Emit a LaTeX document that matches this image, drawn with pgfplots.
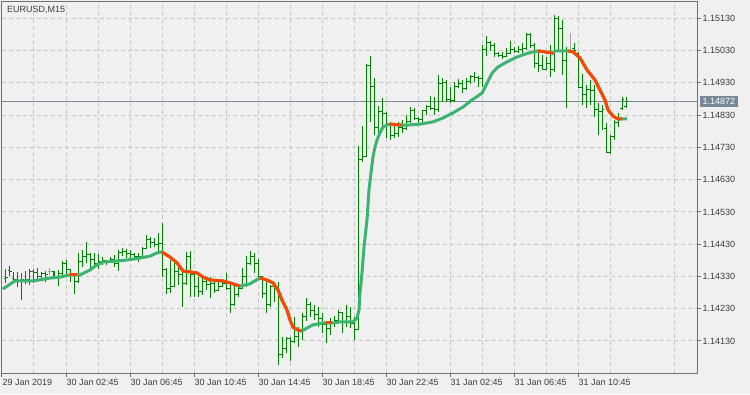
\documentclass[border=0pt]{standalone}
\usepackage{pgfplots}
\pgfplotsset{compat=1.18}
\usepackage{pgfplotstable}
\usepackage{fontspec}
\setmainfont{Liberation Sans}
\definecolor{bg}{RGB}{240,240,240}
\definecolor{barg}{RGB}{0,128,0}
\definecolor{bargray}{RGB}{160,160,160}
\definecolor{magreen}{RGB}{60,179,113}
\definecolor{maorange}{RGB}{255,69,0}
\definecolor{gridc}{RGB}{200,200,200}
\definecolor{framec}{RGB}{112,112,112}
\definecolor{pline}{RGB}{119,136,153}
\definecolor{txt}{RGB}{60,60,60}

\pgfplotstableread{
i o h l c
0 1.14324 1.14352 1.14309 1.14327
1 1.14348 1.14362 1.14331 1.14345
2 1.14324 1.14345 1.14314 1.14319
3 1.14319 1.14345 1.14296 1.14314
4 1.14314 1.14342 1.14257 1.14319
5 1.14317 1.14348 1.14307 1.14319
6 1.14319 1.14353 1.14304 1.14345
7 1.14345 1.14352 1.14309 1.14342
8 1.14342 1.14355 1.14319 1.14329
9 1.14329 1.14345 1.14319 1.14338
10 1.14338 1.14348 1.14314 1.14335
12 1.14345 1.14348 1.14321 1.14331
13 1.14331 1.14350 1.14300 1.14338
14 1.14338 1.14378 1.14335 1.14371
15 1.14371 1.14381 1.14329 1.14350
16 1.14350 1.14352 1.14314 1.14335
17 1.14335 1.14338 1.14276 1.14314
18 1.14314 1.14402 1.14310 1.14376
19 1.14376 1.14412 1.14360 1.14391
20 1.14391 1.14438 1.14371 1.14397
21 1.14397 1.14402 1.14355 1.14381
22 1.14381 1.14402 1.14362 1.14371
23 1.14371 1.14399 1.14352 1.14376
24 1.14376 1.14391 1.14366 1.14378
25 1.14378 1.14381 1.14366 1.14373
26 1.14373 1.14391 1.14371 1.14381
27 1.14381 1.14397 1.14360 1.14371
28 1.14371 1.14412 1.14348 1.14404
29 1.14404 1.14419 1.14393 1.14406
30 1.14406 1.14414 1.14386 1.14400
31 1.14400 1.14412 1.14386 1.14397
32 1.14397 1.14404 1.14381 1.14391
33 1.14391 1.14402 1.14376 1.14393
34 1.14391 1.14422 1.14389 1.14417
35 1.14417 1.14458 1.14414 1.14443
36 1.14443 1.14453 1.14417 1.14435
37 1.14435 1.14448 1.14422 1.14428
38 1.14428 1.14464 1.14402 1.14433
39 1.14433 1.14497 1.14327 1.14350
40 1.14350 1.14355 1.14276 1.14293
41 1.14293 1.14381 1.14278 1.14298
42 1.14298 1.14376 1.14296 1.14345
43 1.14345 1.14360 1.14304 1.14335
44 1.14335 1.14348 1.14236 1.14309
45 1.14309 1.14407 1.14304 1.14391
46 1.14391 1.14410 1.14267 1.14335
47 1.14335 1.14342 1.14267 1.14298
48 1.14298 1.14329 1.14267 1.14283
49 1.14283 1.14335 1.14273 1.14314
50 1.14314 1.14319 1.14288 1.14304
51 1.14304 1.14329 1.14262 1.14309
52 1.14309 1.14317 1.14278 1.14288
53 1.14288 1.14321 1.14286 1.14298
54 1.14298 1.14314 1.14296 1.14309
55 1.14309 1.14342 1.14288 1.14293
56 1.14293 1.14304 1.14216 1.14242
57 1.14242 1.14309 1.14238 1.14273
58 1.14273 1.14304 1.14267 1.14293
59 1.14293 1.14355 1.14290 1.14329
60 1.14329 1.14393 1.14298 1.14371
61 1.14371 1.14410 1.14366 1.14393
62 1.14391 1.14402 1.14340 1.14371
63 1.14371 1.14383 1.14319 1.14329
64 1.14329 1.14331 1.14262 1.14278
65 1.14278 1.14319 1.14216 1.14242
66 1.14242 1.14304 1.14236 1.14298
67 1.14298 1.14314 1.14252 1.14296
68 1.14296 1.14314 1.14056 1.14087
69 1.14087 1.14143 1.14076 1.14107
70 1.14107 1.14141 1.14092 1.14138
71 1.14138 1.14143 1.14069 1.14128
72 1.14128 1.14205 1.14123 1.14143
73 1.14143 1.14174 1.14110 1.14159
74 1.14159 1.14216 1.14133 1.14205
75 1.14205 1.14262 1.14193 1.14242
76 1.14242 1.14252 1.14205 1.14226
77 1.14226 1.14242 1.14195 1.14211
78 1.14211 1.14236 1.14174 1.14200
79 1.14200 1.14218 1.14154 1.14180
80 1.14180 1.14187 1.14123 1.14169
81 1.14169 1.14200 1.14149 1.14187
82 1.14187 1.14207 1.14174 1.14195
83 1.14195 1.14226 1.14185 1.14218
84 1.14218 1.14221 1.14154 1.14190
85 1.14190 1.14242 1.14174 1.14205
86 1.14205 1.14236 1.14169 1.14185
87 1.14185 1.14205 1.14133 1.14166
88 1.14166 1.14734 1.14164 1.14691
89 1.14691 1.14796 1.14686 1.14701
90 1.14701 1.14988 1.14701 1.14985
91 1.14985 1.15013 1.14810 1.14918
92 1.14918 1.14944 1.14768 1.14792
93 1.14792 1.14858 1.14768 1.14841
94 1.14841 1.14882 1.14789 1.14836
95 1.14836 1.14840 1.14758 1.14805
96 1.14805 1.14808 1.14753 1.14768
97 1.14768 1.14807 1.14758 1.14774
98 1.14774 1.14810 1.14763 1.14792
99 1.14792 1.14815 1.14774 1.14789
100 1.14789 1.14830 1.14784 1.14810
101 1.14810 1.14856 1.14805 1.14844
102 1.14844 1.14851 1.14815 1.14820
103 1.14820 1.14825 1.14799 1.14815
104 1.14815 1.14846 1.14799 1.14844
105 1.14844 1.14861 1.14830 1.14856
106 1.14856 1.14889 1.14846 1.14851
107 1.14851 1.14887 1.14830 1.14848
108 1.14848 1.14954 1.14841 1.14929
109 1.14929 1.14944 1.14872 1.14931
110 1.14931 1.14939 1.14872 1.14877
111 1.14877 1.14918 1.14869 1.14875
112 1.14875 1.14934 1.14872 1.14918
113 1.14918 1.14941 1.14913 1.14929
114 1.14929 1.14939 1.14900 1.14913
115 1.14913 1.14944 1.14908 1.14934
116 1.14934 1.14954 1.14926 1.14949
117 1.14949 1.14965 1.14934 1.14947
118 1.14947 1.14951 1.14918 1.14944
119 1.14944 1.15047 1.14918 1.15032
120 1.15032 1.15075 1.15013 1.15055
121 1.15055 1.15061 1.15030 1.15047
122 1.15047 1.15052 1.15011 1.15021
123 1.15021 1.15027 1.15011 1.15016
124 1.15016 1.15024 1.15003 1.15013
125 1.15013 1.15037 1.15009 1.15021
126 1.15021 1.15061 1.15019 1.15034
127 1.15034 1.15042 1.15021 1.15027
128 1.15027 1.15044 1.15021 1.15032
129 1.15032 1.15052 1.15021 1.15037
130 1.15037 1.15083 1.15032 1.15080
131 1.15080 1.15083 1.15037 1.15047
132 1.15047 1.15052 1.14975 1.14990
133 1.14990 1.15027 1.14965 1.14985
134 1.14985 1.15016 1.14970 1.14972
135 1.14972 1.15011 1.14970 1.14990
136 1.14990 1.15047 1.14947 1.14970
137 1.14970 1.15140 1.14965 1.15130
138 1.15130 1.15137 1.15027 1.15099
139 1.15099 1.15124 1.14954 1.14999
140 1.14999 1.15042 1.14851 1.15027
142 1.15035 1.15052 1.15027 1.15029
143 1.15021 1.15024 1.14913 1.14916
144 1.14916 1.14957 1.14861 1.14894
145 1.14894 1.14923 1.14851 1.14908
146 1.14908 1.14939 1.14861 1.14906
147 1.14906 1.14923 1.14825 1.14846
148 1.14846 1.14867 1.14768 1.14841
149 1.14841 1.14861 1.14784 1.14846
150 1.14790 1.14805 1.14712 1.14714
151 1.14714 1.14768 1.14709 1.14765
152 1.14763 1.14815 1.14753 1.14807
153 1.14807 1.14836 1.14794 1.14820
154 1.14851 1.14887 1.14846 1.14877
155 1.14858 1.14887 1.14851 1.14872
}\bars

\pgfplotstableread{
i o h l c
11 1.14345 1.14355 1.14335 1.14345
141 1.15030 1.15083 1.15027 1.15030
}\graybars

\pgfplotstableread{
x y
-0.8 1.14291
2.25 1.14316
6.75 1.14316
11 1.14325
13.5 1.14328
16 1.14335
17.75 1.14335
18.5 1.14335
21 1.14350
22.75 1.14366
24.25 1.14375
27.75 1.14378
30.25 1.14381
33.5 1.14387
36 1.14393
37.75 1.14403
39 1.14406
41 1.14390
42.75 1.14372
44.25 1.14347
46 1.14344
47.75 1.14341
49.25 1.14328
51 1.14319
54.25 1.14316
56 1.14310
58.5 1.14300
61 1.14307
61.75 1.14313
63.5 1.14325
65.25 1.14319
66.75 1.14310
68 1.14288
69 1.14257
70.25 1.14226
71 1.14195
71.75 1.14173
73 1.14164
74 1.14161
75.25 1.14170
76.75 1.14180
79.25 1.14186
81.75 1.14186
83.5 1.14189
86.75 1.14189
87.75 1.14201
88.25 1.14226
88.5 1.14279
89 1.14341
89.5 1.14421
90.25 1.14505
90.75 1.14598
91.25 1.14651
91.75 1.14700
92.25 1.14731
92.75 1.14753
93.5 1.14775
94.25 1.14793
95.25 1.14799
96 1.14802
99 1.14799
100.25 1.14799
103.5 1.14802
106.75 1.14809
109.25 1.14821
111.75 1.14837
114.25 1.14855
116.5 1.14877
119 1.14898
120.25 1.14929
121.5 1.14960
123 1.14979
125.25 1.14995
127.75 1.15010
129.75 1.15019
131.75 1.15026
133 1.15029
134.75 1.15026
136.75 1.15022
137.25 1.15029
140.5 1.15029
141.75 1.15026
143.5 1.15007
145.25 1.14970
147.25 1.14939
148.5 1.14908
149.75 1.14877
150.5 1.14846
151.75 1.14827
153 1.14818
154 1.14818
155.25 1.14818
}\ma

\pgfplotsset{
  hl/.style={draw=none, no markers, forget plot,
    error bars/.cd, y dir=plus, y explicit, error mark=none,
    error bar style={draw=#1, line width=1pt, solid}},
  tk/.style 2 args={draw=none, no markers, forget plot,
    error bars/.cd, x dir=#2, x fixed=0.45, error mark=none,
    error bar style={draw=#1, line width=1pt, solid}},
}

\begin{document}
\begin{tikzpicture}[x=1pt,y=1pt]
\fill[bg] (0,0) rectangle (750,394);
\useasboundingbox (0,0) rectangle (750,394);
\begin{axis}[
  at={(2pt,21pt)}, anchor=south west,
  scale only axis, width=695pt, height=371pt,
  xmin=-1, xmax=172.75, ymin=1.140308, ymax=1.151805,
  axis line style={draw=framec, line width=1pt},
  tick align=outside,
  major tick length=4pt, minor tick length=0pt,
  tick style={draw=framec, line width=1pt},
  xtick pos=bottom, ytick pos=right, yticklabel pos=right,
  xtick={-1,15,31,47,63,79,95,111,127,143},
  xticklabels={29 Jan 2019,30 Jan 02:45,30 Jan 06:45,30 Jan 10:45,30 Jan 14:45,30 Jan 18:45,30 Jan 22:45,31 Jan 02:45,31 Jan 06:45,31 Jan 10:45},
  minor xtick={7,23,39,55,71,87,103,119,135,151,167},
  ytick={1.1413,1.1423,1.1433,1.1443,1.1453,1.1463,1.1473,1.1483,1.1493,1.1503,1.1513},
  yticklabels={1.14130,1.14230,1.14330,1.14430,1.14530,1.14630,1.14730,1.14830,1.14930,1.15030,1.15130},
  xmajorgrids, xminorgrids, ymajorgrids,
  major grid style={draw=gridc, line width=1pt, dash pattern=on 4pt off 3pt},
  minor grid style={draw=gridc, line width=1pt, dash pattern=on 4pt off 3pt},
  x tick label style={anchor=north west, inner sep=0pt, xshift=0.5pt, yshift=-2pt, font=\fontsize{9}{10}\selectfont, text=txt},
  y tick label style={anchor=west, inner sep=0pt, xshift=1.5pt, font=\fontsize{9}{10}\selectfont, text=txt},
  clip=true,
]
\addplot[pline, line width=1pt, forget plot] coordinates {(-1,1.14872) (172.75,1.14872)};

\addplot[hl=barg] table[x=i, y=l, y error plus expr=\thisrow{h}-\thisrow{l}] {\bars};
\addplot[tk={barg}{minus}] table[x=i, y=o] {\bars};
\addplot[tk={barg}{plus}] table[x=i, y=c] {\bars};

\addplot[hl=bargray] table[x=i, y=l, y error plus expr=\thisrow{h}-\thisrow{l}] {\graybars};
\addplot[tk={bargray}{both}] table[x=i, y=o] {\graybars};

\addplot[magreen, line width=3pt, forget plot] table[x=x,y=y] {\ma};
\addplot[maorange, line width=3pt, forget plot] coordinates {(16,1.14335) (17.75,1.14335)};
\addplot[maorange, line width=3pt, forget plot] coordinates {(39,1.14406) (41,1.14390) (42.75,1.14372) (44.25,1.14347) (46,1.14344) (47.75,1.14341) (49.25,1.14328) (51,1.14319) (54.25,1.14316) (56,1.14310) (58.5,1.14300)};
\addplot[maorange, line width=3pt, forget plot] coordinates {(63.5,1.14325) (65.25,1.14319) (66.75,1.14310) (68,1.14288) (69,1.14257) (70.25,1.14226) (71,1.14195) (71.75,1.14173) (73,1.14164) (74,1.14161)};
\addplot[maorange, line width=3pt, forget plot] coordinates {(80,1.14186) (81.5,1.14186)};
\addplot[maorange, line width=3pt, forget plot] coordinates {(96,1.14802) (99,1.14799)};
\addplot[maorange, line width=3pt, forget plot] coordinates {(133,1.15029) (134.75,1.15026) (136.75,1.15022)};
\addplot[maorange, line width=3pt, forget plot] coordinates {(140.5,1.15029) (141.75,1.15026) (143.5,1.15007) (145.25,1.14970) (147.25,1.14939) (148.5,1.14908) (149.75,1.14877) (150.5,1.14846) (151.75,1.14827) (153,1.14818) (154,1.14818)};

\coordinate (pl) at (axis cs:172.75,1.14872);
\end{axis}
\node[anchor=west, fill=pline, text=white, inner xsep=3pt, inner ysep=0pt, minimum height=11pt, xshift=2.5pt, font=\fontsize{9}{10}\selectfont] at (pl) {1.14872};
\node[anchor=west, inner sep=0pt, text=txt, font=\fontsize{9}{10}\selectfont] at (7,384.5) {EURUSD,M15};
\end{tikzpicture}
\end{document}
